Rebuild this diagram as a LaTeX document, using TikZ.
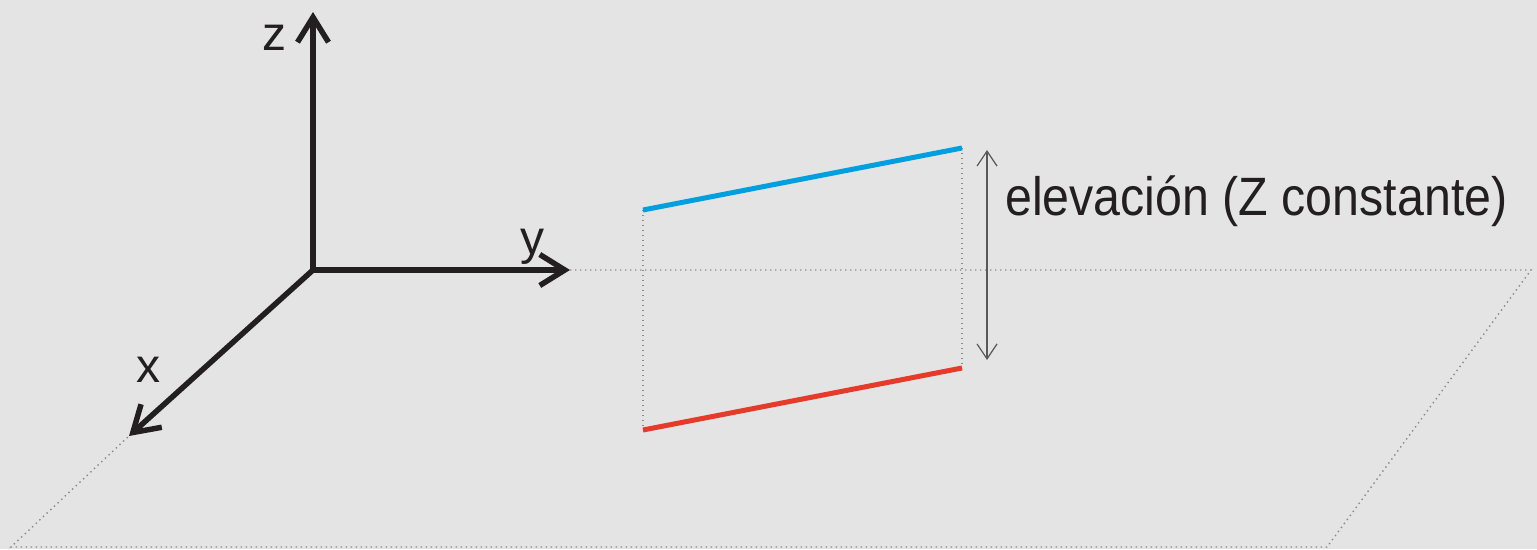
\documentclass[tikz,border=0pt]{standalone}
\usepackage{fontspec}
\setmainfont{Liberation Sans}
\usetikzlibrary{arrows.meta}
\definecolor{bg}{HTML}{E4E4E4}
\definecolor{ink}{HTML}{231F20}
\definecolor{skyblue}{HTML}{00A0E0}
\definecolor{redline}{HTML}{E63A2A}
\definecolor{dotgray}{HTML}{8A8A8A}
\tikzset{
  axis/.style={ink, line width=5.5pt, line cap=round,
    -{Straight Barb[length=25pt, width=31pt, line width=5.5pt]}},
  guide/.style={dotgray, line width=1.4pt, dash pattern=on 1.4pt off 3.6pt},
  axlabel/.style={ink, font=\fontsize{48}{48}\selectfont, inner sep=0pt},
  dim/.style={black!65, line width=1.2pt,
    {Straight Barb[length=15pt, width=20pt, line width=1.2pt]}-{Straight Barb[length=15pt, width=20pt, line width=1.2pt]}},
  seg/.style={line width=5pt}
}
\begin{document}
\begin{tikzpicture}[x=1pt, y=-1pt]
\fill[bg] (0,0) rectangle (1537,549);
\useasboundingbox (0,0) rectangle (1537,549);
% coordinates
\coordinate (O) at (313,270);
\coordinate (Z) at (313,12);
\coordinate (Y) at (570,270);
\coordinate (X) at (129,436);
\coordinate (P1) at (1531,270);
\coordinate (P2) at (1327,547);
\coordinate (P3) at (11,547);
\coordinate (B1) at (643,210);
\coordinate (B2) at (962,148);
\coordinate (R1) at (643,430);
\coordinate (R2) at (962,368);
\coordinate (D1) at (987,150);
\coordinate (D2) at (987,360);
% dotted plane and guides
\draw[guide] (Y) -- (P1) -- (P2) -- (P3) -- (X);
\draw[guide] (B1) -- (R1);
\draw[guide] (B2) -- (R2);
% segments
\draw[seg, skyblue] (B1) -- (B2);
\draw[seg, redline] (R1) -- (R2);
% axes
\draw[axis] (O) -- (Z);
\draw[axis] (O) -- (Y);
\draw[axis] (O) -- (X);
% dimension
\draw[dim] (D1) -- (D2);
% labels
\node[axlabel, anchor=base] (zl) at (274,50) {z};
\node[axlabel, anchor=base] (yl) at (532,254) {y};
\node[axlabel, anchor=base] (xl) at (148,382) {x};
\node[ink, anchor=base west, inner sep=0pt, xscale=0.895, font=\fontsize{54}{54}\selectfont] (el) at (1005,215) {elevación (Z constante)};
\end{tikzpicture}
\end{document}
